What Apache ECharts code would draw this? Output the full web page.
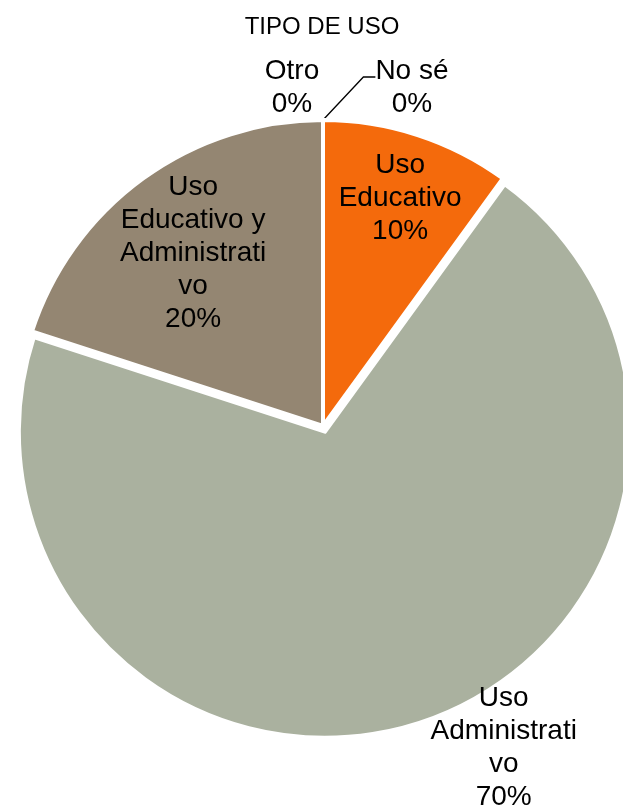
<!DOCTYPE html>
<html>
<head>
<meta charset="utf-8">
<script src="https://cdn.jsdelivr.net/npm/echarts@6/dist/echarts.min.js"></script>
<style>
  html, body { margin: 0; padding: 0; background: #fff; }
  #pieChart { width: 623px; height: 808px; }
</style>
</head>
<body>
<div id="pieChart"></div>
<script>
// datos
const categories = ['Uso Educativo', 'Uso Administrativo', 'Uso Educativo y Administrativo', 'Otro', 'No sé'];
const values = [10, 70, 20, 0, 0];
// texto de etiqueta tal como lo corta Excel
const labelNames = ['Uso\nEducativo', 'Uso\nAdministrati\nvo', 'Uso\nEducativo y\nAdministrati\nvo', 'Otro', 'No sé'];
const colors = ['#F46A0C', '#AAB19F', '#948672', '#7F7F7F', '#5B5B5B'];

const center = [323, 426];
const radius = 306;
const explodeIndex = 1;   // la porcion verde va separada
const explodeOffset = 6;
// posicion de etiqueta: [angulo desde arriba (grados, horario), fraccion del radio]
const labelPlace = [[18.7, 0.786], [150.7, 1.207], [323.1, 0.707], [354.76, 1.109], [14.3, 1.177]];
const fontFamily = '"Liberation Sans", Arial, sans-serif';

// centro desplazado de la porcion separada, segun su angulo medio
const total = values.reduce((a, b) => a + b, 0);
const before = values.slice(0, explodeIndex).reduce((a, b) => a + b, 0);
const midAng = (before + values[explodeIndex] / 2) / total * 2 * Math.PI;
const explodeCenter = [
  center[0] + Math.sin(midAng) * explodeOffset,
  center[1] - Math.cos(midAng) * explodeOffset
];

const chart = echarts.init(document.getElementById('pieChart'));

const mainData = categories.map((name, i) => {
  const inside = i === 0 || i === 2;
  const hidden = i === explodeIndex;
  return {
    name: name,
    value: values[i],
    itemStyle: hidden ? { color: 'transparent', borderWidth: 0 } : { color: colors[i] },
    label: { position: inside ? 'inside' : 'outside' },
    labelLine: { show: i === 4, length: 20, length2: 12, lineStyle: { color: '#000', width: 1.3 } }
  };
});

const explodeData = categories.map((name, i) => ({
  name: name,
  value: values[i],
  itemStyle: i === explodeIndex
    ? { color: colors[i], borderColor: '#fff', borderWidth: 4 }
    : { color: 'transparent', borderWidth: 0 }
}));

const textStyle = { color: '#000', fontFamily: fontFamily, fontSize: 28, lineHeight: 33 };

chart.setOption({
  animation: false,
  title: {
    text: 'TIPO DE USO',
    left: 317,
    textAlign: 'center',
    top: 10,
    textStyle: { fontFamily: fontFamily, fontSize: 24, fontWeight: 'normal', color: '#000' }
  },
  series: [{
    type: 'pie',
    center: explodeCenter,
    radius: radius,
    startAngle: 90,
    clockwise: true,
    silent: true,
    label: { show: false },
    labelLine: { show: false },
    data: explodeData
  }, {
    type: 'pie',
    center: center,
    radius: radius,
    startAngle: 90,
    clockwise: true,
    avoidLabelOverlap: false,
    silent: true,
    itemStyle: { borderColor: '#fff', borderWidth: 4 },
    label: {
      show: true,
      color: '#000',
      fontFamily: fontFamily,
      fontSize: 28,
      lineHeight: 33,
      align: 'center',
      formatter: function (p) {
        if (p.dataIndex === 4) {
          // linea vacia arriba para que la guia llegue a la altura de "No sé"
          return '{gap| }\n{t|' + labelNames[p.dataIndex] + '}\n{t|' + p.percent + '%}';
        }
        return labelNames[p.dataIndex] + '\n' + p.percent + '%';
      },
      rich: {
        gap: { fontSize: 2, lineHeight: 22 },
        t: textStyle
      }
    },
    labelLayout: function (params) {
      const pl = labelPlace[params.dataIndex];
      const a = pl[0] * Math.PI / 180;
      return {
        x: center[0] + Math.sin(a) * radius * pl[1],
        y: center[1] - Math.cos(a) * radius * pl[1],
        align: 'center',
        verticalAlign: 'middle'
      };
    },
    data: mainData
  }]
});
</script>
</body>
</html>
